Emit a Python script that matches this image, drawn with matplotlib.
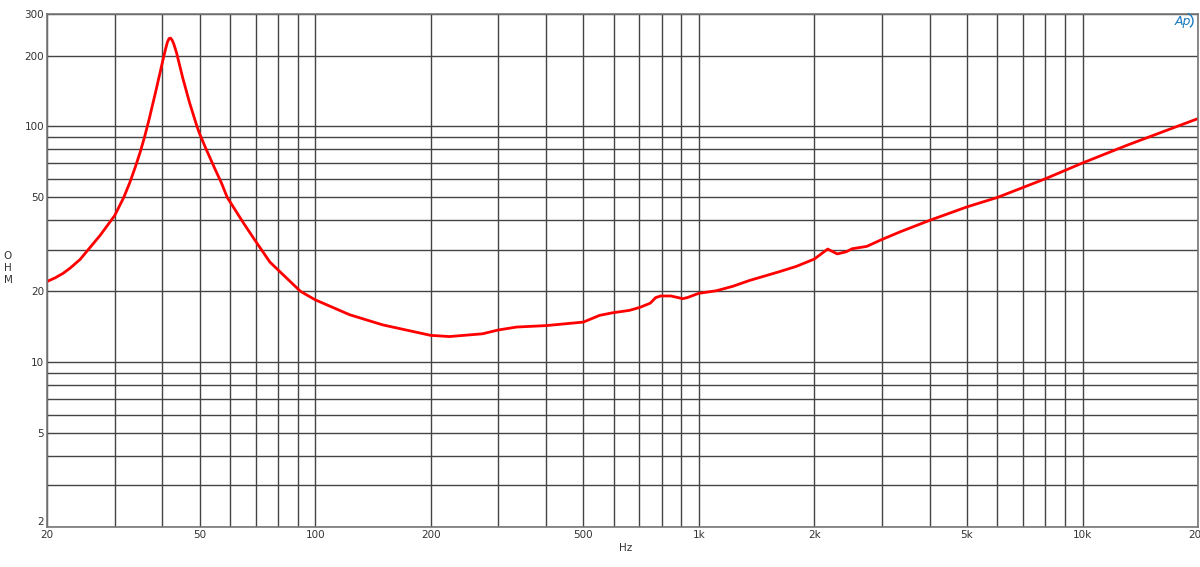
import matplotlib
matplotlib.use("Agg")
import matplotlib.pyplot as plt
from matplotlib.ticker import FixedLocator
from matplotlib.patches import Arc

# Data (frequency in Hz, impedance in ohm)
freq = [20, 21, 22, 23, 24.4, 25.6, 27.5, 29.4, 30, 31, 31.7, 32.9, 34, 35, 35.9, 36.9,
        38.3, 39.7, 40.3, 40.8, 41.2, 41.6, 42.0, 42.4, 42.8, 43.5, 45.2, 47, 49.2, 50,
        52, 54.7, 57, 59, 65, 69.6, 76.2, 91.5, 100, 123, 150, 200, 224, 273, 300, 335,
        400, 500, 551, 595, 660, 703, 747, 772, 795, 845, 883, 907, 933, 1000, 1111,
        1227, 1353, 1620, 1795, 2000, 2167, 2295, 2420, 2510, 2740, 2980, 3342, 4000,
        5000, 6000, 8000, 10000, 13000, 17620, 20000]
impedance = [22, 22.8, 23.8, 25.1, 27.3, 30, 34.5, 40, 41.8, 46.5, 50, 58, 67.5, 78, 90,
             107, 138, 178, 198, 215, 228, 236, 237, 232, 224, 206, 160, 127, 100, 93,
             80, 66.5, 57.5, 50, 39, 33, 26.6, 20, 18.4, 15.9, 14.4, 13.0, 12.85, 13.2,
             13.7, 14.1, 14.3, 14.8, 15.8, 16.2, 16.6, 17.1, 17.8, 18.8, 19.1, 19.1, 18.8,
             18.6, 18.8, 19.6, 20.1, 21.0, 22.2, 24.2, 25.5, 27.4, 30.2, 28.8, 29.4, 30.3,
             31, 33, 35.7, 40, 45.6, 50, 60, 70, 83, 100, 108]

x_tick_vals = [20, 50, 100, 200, 500, 1000, 2000, 5000, 10000, 20000]
x_tick_labels = ["20", "50", "100", "200", "500", "1k", "2k", "5k", "10k", "20k"]
y_tick_vals = [2, 5, 10, 20, 50, 100, 200, 300]
y_tick_labels = ["2", "5", "10", "20", "50", "100", "200", "300"]

fig = plt.figure(figsize=(12, 5.67), dpi=100)
ax = fig.add_axes([47/1200, 1 - 527/567, (1198 - 47)/1200, (527 - 14)/567])
ax.set_xscale("log")
ax.set_yscale("log")
ax.set_xlim(20, 20000)
ax.set_ylim(2, 300)

# grid lines at every 1..9 multiple
xg = [m * 10**e for e in range(1, 5) for m in range(1, 10)]
xg = [v for v in xg if 20 <= v <= 20000]
yg = [m * 10**e for e in range(0, 3) for m in range(1, 10)]
yg = [v for v in yg if 2 <= v <= 300]
ax.xaxis.set_major_locator(FixedLocator(xg))
ax.yaxis.set_major_locator(FixedLocator(yg))
ax.xaxis.set_minor_locator(FixedLocator([]))
ax.yaxis.set_minor_locator(FixedLocator([]))
ax.grid(True, which="major", color="#444444", linewidth=1.0)
ax.set_xticklabels([x_tick_labels[x_tick_vals.index(v)] if v in x_tick_vals else "" for v in xg])
ax.set_yticklabels([y_tick_labels[y_tick_vals.index(v)] if v in y_tick_vals else "" for v in yg])
ax.tick_params(axis="both", length=0, pad=2, labelsize=7.5, labelcolor="#333333")
for lbl in ax.get_yticklabels():
    if lbl.get_text() == "2":
        lbl.set_va("bottom")

for s in ax.spines.values():
    s.set_color("#777777")
    s.set_linewidth(1.2)

ax.plot(freq, impedance, color="#ff0000", linewidth=2.0, solid_joinstyle="round",
        solid_capstyle="round")

fig.text(626/1200, 1 - 548/567, "Hz", ha="center", va="center", fontsize=7.5, color="#333333")
fig.text(8/1200, 1 - 268/567, "O\nH\nM", ha="center", va="center", fontsize=7.5,
         color="#333333", linespacing=1.3)
fig.text(1183/1200, 1 - 22/567, "Ap", ha="center", va="center", fontsize=9,
         color="#1a7cc1", style="italic")
fig.add_artist(Arc((1185/1200, 1 - 21/567), 16/1200, 16/567, theta1=-70, theta2=80,
                   transform=fig.transFigure, color="#1a7cc1", linewidth=1.0))

fig.savefig("out.png", dpi=100, facecolor="white")
